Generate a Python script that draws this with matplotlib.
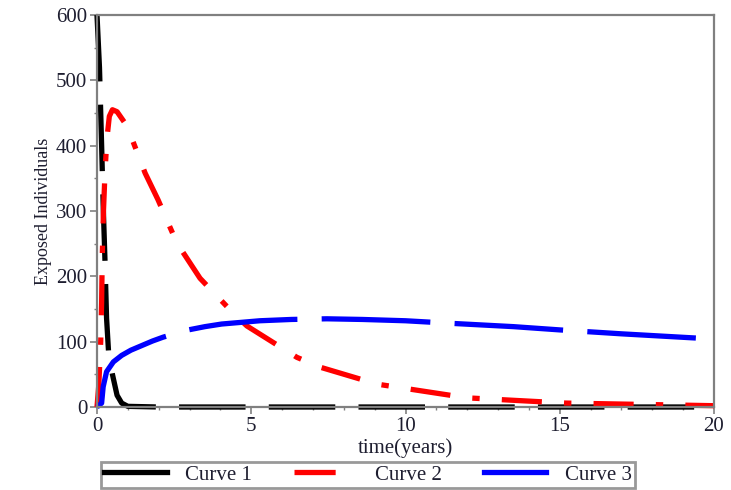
import matplotlib
matplotlib.use('Agg')
import matplotlib.pyplot as plt
from matplotlib.ticker import MultipleLocator

# values
t_curve1 = [0, 0.08, 0.15, 0.2, 0.26, 0.31, 0.38, 0.5, 0.65, 0.8, 1.0, 2, 5, 10, 15, 20]
curve1 = [600, 520, 400, 310, 222, 136, 80, 50, 18, 6, 1, 0, 0, 0, 0, 0]

t_curve2 = [0, 0.06, 0.12, 0.15, 0.17, 0.21, 0.26, 0.32, 0.4, 0.5, 0.65, 0.9, 1.17, 1.56,
            1.98, 2.59, 3.34, 4.41, 4.86, 6.48, 7.23, 9.08, 12.0, 15.2, 20]
curve2 = [0, 35, 100, 160, 230, 300, 360, 410, 445, 455, 452, 435, 406, 358,
          317, 251, 197, 144, 124, 76, 61, 35, 14, 6, 2]

t_curve3 = [0, 0.15, 0.2, 0.31, 0.53, 0.8, 1.1, 1.45, 1.8, 2.15, 2.96, 3.5, 4.04, 5.28,
            6.3, 7.45, 8.6, 10.0, 11.5, 13.5, 15.0, 17.0, 20.0]
curve3 = [0, 6, 31, 54, 69, 79, 87, 94, 101, 107, 118, 123, 127, 132,
          134, 135, 134, 132, 128, 123, 118, 112, 104]

labels = ['Curve 1', 'Curve 2', 'Curve 3']

plt.rcParams['font.family'] = ['Liberation Serif', 'DejaVu Serif']
txt_color = '#1e1e30'
grey = '#808080'

fig = plt.figure(figsize=(7.31, 4.9), dpi=100)
ax = fig.add_axes([97/731, 1 - 407/490, (714 - 97)/731, (407 - 15)/490])

lw = 3.8
ax.plot(t_curve1, curve1, color='black', lw=lw, linestyle=(0, (12.6, 4.4)),
        label=labels[0], clip_on=False)
ax.plot(t_curve2, curve2, color='red', lw=lw, linestyle=(0, (7.6, 4.2, 1.4, 4.2)),
        label=labels[1], clip_on=False)
ax.plot(t_curve3, curve3, color='blue', lw=lw, linestyle=(0, (20.6, 4.6)),
        label=labels[2], clip_on=False)

ax.set_xlim(0, 20)
ax.set_ylim(0, 600)
ax.xaxis.set_major_locator(MultipleLocator(5))
ax.xaxis.set_minor_locator(MultipleLocator(1))
ax.yaxis.set_major_locator(MultipleLocator(100))
ax.yaxis.set_minor_locator(MultipleLocator(50))

for s in ax.spines.values():
    s.set_color(grey)
    s.set_linewidth(1.6)
ax.tick_params(which='major', direction='out', length=5, width=1.2, color=grey,
               labelsize=15, labelcolor=txt_color, pad=2)
ax.tick_params(which='minor', direction='out', length=2.5, width=1.0, color=grey)

ax.set_xlabel('time(years)', fontsize=15, color=txt_color, labelpad=2)
ax.set_ylabel('Exposed Individuals', fontsize=13, color=txt_color, labelpad=3)

leg = fig.legend(loc='upper left', bbox_to_anchor=(101/731, 1 - 462/490), ncol=3,
                 fontsize=15, frameon=True, fancybox=False, handlelength=3.0,
                 handletextpad=0.9, columnspacing=2.0, borderpad=0.15,
                 borderaxespad=0)
leg.get_frame().set_edgecolor(grey)
leg.get_frame().set_linewidth(2)
for text in leg.get_texts():
    text.set_color(txt_color)
# legend samples: black and blue drawn solid, red keeps dash + dot
leg_lines = leg.get_lines()
leg_lines[0].set_linestyle('-')
leg_lines[2].set_linestyle('-')
leg_lines[1].set_linestyle((0, (7.8, 4.0, 1.4, 4.0)))

plt.savefig('out.png', dpi=100)
